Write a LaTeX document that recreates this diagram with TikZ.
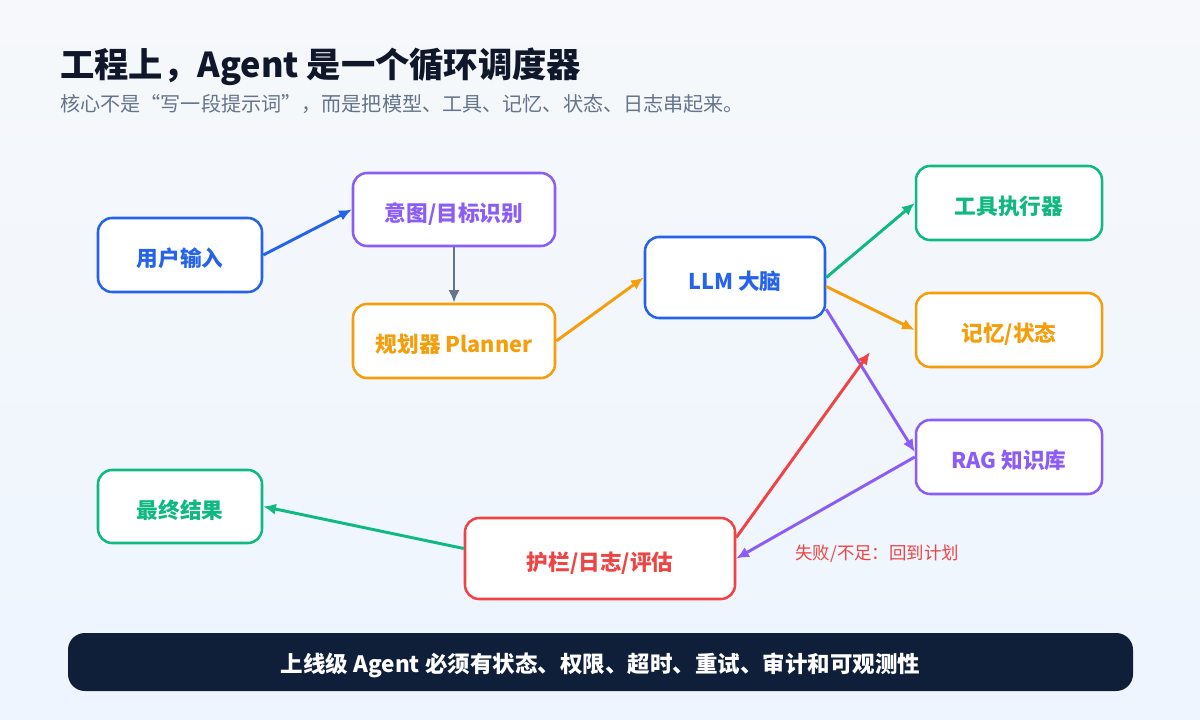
\documentclass[tikz,border=0pt]{standalone}
\usepackage{fontspec}
\setmainfont{Noto Sans CJK SC}
\usetikzlibrary{arrows.meta}
\definecolor{bgtop}{HTML}{F6F8FB}
\definecolor{bgbot}{HTML}{EEF5FE}
\definecolor{ink}{HTML}{0F172A}
\definecolor{slate}{HTML}{64748B}
\definecolor{navy}{HTML}{0F1F3A}
\definecolor{cblue}{HTML}{2563EB}
\definecolor{cpurple}{HTML}{8B5CF6}
\definecolor{corange}{HTML}{F59E0B}
\definecolor{cgreen}{HTML}{10B981}
\definecolor{cred}{HTML}{EF4444}
\tikzset{
	box/.style={draw=#1,text=#1,fill=white,line width=1.8pt,rounded corners=10pt,
		font=\bfseries\fontsize{15.4}{18}\selectfont,inner sep=0pt,text height=1.65em,text depth=0pt},
	link/.style={draw=#1,line width=2.1pt,-{Latex[length=9pt,width=8pt]}}
}
\begin{document}
\begin{tikzpicture}[x=0.025cm,y=-0.025cm]
				\def\px{0.025cm}
				%\useasboundingbox (0,0) rectangle (1200,720);
				\shade[top color=bgtop,bottom color=bgbot] (0,0) rectangle (1200,720);
				
				\node[anchor=west,text=ink,font=\bfseries\fontsize{24.4}{28}\selectfont,inner sep=0pt] (title) at (60,67) {工程上，Agent 是一个循环调度器};
				\node[anchor=west,text=slate,font=\fontsize{14.3}{17}\selectfont,inner sep=0pt] (sub) at (60,104) {核心不是“写一段提示词”，而是把模型、工具、记忆、状态、日志串起来。};
				
				\node[box=cblue,minimum width=164*\px,minimum height=74*\px] (user) at (180,255) {用户输入};
				\node[box=cpurple,minimum width=202*\px,minimum height=73*\px] (intent) at (454,209.5) {意图/目标识别};
				\node[box=corange,minimum width=202*\px,minimum height=74*\px] (plan) at (454,341) {规划器 Planner};
				\node[box=cblue,minimum width=180*\px,minimum height=81*\px] (llm) at (735,277.5) {LLM 大脑};
				\node[box=cgreen,minimum width=186*\px,minimum height=74*\px] (tool) at (1009,203) {工具执行器};
				\node[box=corange,minimum width=186*\px,minimum height=74*\px] (mem) at (1009,330) {记忆/状态};
				\node[box=cpurple,minimum width=186*\px,minimum height=74*\px] (rag) at (1009,457) {RAG 知识库};
				\node[box=cgreen,minimum width=164*\px,minimum height=73*\px] (final) at (180,506.5) {最终结果};
				\node[box=cred,minimum width=270*\px,minimum height=81*\px] (guard) at (600,558.5) {护栏/日志/评估};
				
				\coordinate (back) at (870,352);
				
				\draw[link=cblue] (user.east) -- (intent.west);
				\draw[link=slate] (intent.south) -- (plan.north);
				\draw[link=corange] (plan.east) -- (llm.west);
				\draw[link=cgreen] (llm.east) -- (tool.west);
				\draw[link=corange] ([yshift=-9*\px]llm.east) -- (mem.west);
				\draw[link=cpurple] ([yshift=10*\px]llm.south east) -- ([yshift=5*\px]rag.west);
				\draw[link=cpurple] (rag.west) -- (guard.east);
				\draw[link=cred] ([yshift=21*\px]guard.east) -- (back);
				\draw[link=cgreen] ([yshift=10*\px]guard.west) -- (final.east);
				
				\node[anchor=west,text=cred,font=\fontsize{12.4}{15}\selectfont,inner sep=0pt] (fail) at (795,554) {失败/不足：回到计划};
				
				\node[fill=navy,rounded corners=12pt,minimum width=1065*\px,minimum height=58*\px,inner sep=0pt,
					text height=1.5em,text depth=0pt,
					text=white,font=\bfseries\fontsize{16}{19}\selectfont] (bar) at (600.5,662) {上线级 Agent 必须有状态、权限、超时、重试、审计和可观测性};
			\end{tikzpicture}
\end{document}
